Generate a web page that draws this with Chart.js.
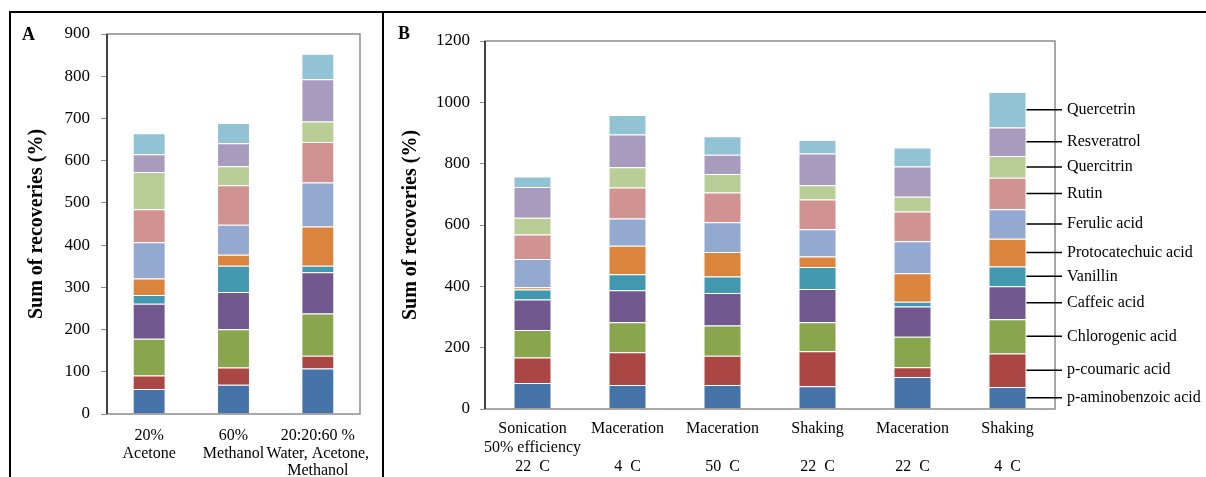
<!DOCTYPE html>
<html>
<head>
<meta charset="utf-8">
<script src="https://cdn.jsdelivr.net/npm/chart.js@4"></script>
<style>
  body { margin: 0; background: #fff; }
  #wrap { position: relative; width: 1206px; height: 477px; overflow: hidden; }
  canvas { position: absolute; top: 0; }
  #cA { left: 0; }
  #cB { left: 383px; }
  .frame { position: absolute; background: #000; }
</style>
</head>
<body>
<div id="wrap">
  <canvas id="cA" width="383" height="477"></canvas>
  <canvas id="cB" width="823" height="477"></canvas>
  <div class="frame" style="left:10px;top:11px;width:1196px;height:2px"></div>
  <div class="frame" style="left:9px;top:11px;width:2px;height:466px"></div>
  <div class="frame" style="left:382px;top:11px;width:2px;height:466px"></div>
</div>
<script>
// compounds, bottom to top of each stack
const compounds = ['p-aminobenzoic acid', 'p-coumaric acid', 'Chlorogenic acid', 'Caffeic acid',
  'Vanillin', 'Protocatechuic acid', 'Ferulic acid', 'Rutin', 'Quercitrin', 'Resveratrol', 'Quercetrin'];
const colours = ['#4572A7', '#AA4643', '#89A54E', '#71588F', '#4198AF', '#DB843D',
  '#93A9CF', '#D19392', '#B9CD96', '#A99BBD', '#92C3D5'];

// panel A - solvents
const solventLabels = [['20%', 'Acetone'], ['60%', 'Methanol'], ['20:20:60 %', 'Water, Acetone,', 'Methanol']];
// one row per compound, values per solvent
const solventValues = [
  [59, 69, 108],
  [32, 41, 30],
  [87, 91, 100],
  [83, 88, 98],
  [21, 62, 15],
  [39, 26, 93],
  [86, 71, 104],
  [78, 94, 96],
  [88, 45, 49],
  [42, 54, 100],
  [50, 48, 60]
];
const ticksA = { min: 0, max: 900, step: 100 };

// panel B - extraction methods
const methodLabels = [['Sonication', '50% efficiency', '22  C'], ['Maceration', '', '4  C'],
  ['Maceration', '', '50  C'], ['Shaking', '', '22  C'], ['Maceration', '', '22  C'], ['Shaking', '', '4  C']];
const methodValues = [
  [85, 78, 78, 74, 104, 72],
  [83, 107, 96, 114, 32, 109],
  [90, 98, 98, 95, 100, 112],
  [99, 104, 106, 108, 98, 107],
  [33, 52, 54, 72, 16, 65],
  [7, 93, 80, 34, 93, 90],
  [92, 89, 97, 89, 104, 96],
  [80, 101, 97, 97, 97, 103],
  [55, 66, 60, 47, 48, 71],
  [100, 107, 63, 103, 99, 93],
  [34, 64, 60, 44, 62, 116]
];
const ticksB = { min: 0, max: 1200, step: 200 };

const serif = '"Liberation Serif", "Times New Roman", serif';

// grey plot box, darker value axis
const plotBox = {
  id: 'plotBox',
  afterDatasetsDraw(chart) {
    const { ctx, chartArea: a } = chart;
    ctx.save();
    ctx.strokeStyle = '#8c8c8c';
    ctx.lineWidth = 1.5;
    ctx.strokeRect(a.left, a.top, a.right - a.left, a.bottom - a.top);
    ctx.strokeStyle = '#222';
    ctx.beginPath();
    ctx.moveTo(a.left, a.top);
    ctx.lineTo(a.left, a.bottom);
    ctx.stroke();
    ctx.restore();
  }
};

// panel letter
function letter(txt, x, y) {
  return {
    id: 'letter' + txt,
    afterDraw(chart) {
      const ctx = chart.ctx;
      ctx.save();
      ctx.font = 'bold 18px ' + serif;
      ctx.fillStyle = '#000';
      ctx.textBaseline = 'middle';
      ctx.fillText(txt, x, y);
      ctx.restore();
    }
  };
}

// labels with leader lines next to the last bar
const sideLegend = {
  id: 'sideLegend',
  afterDraw(chart) {
    const { ctx, chartArea: a } = chart;
    ctx.save();
    ctx.font = '16px ' + serif;
    ctx.fillStyle = '#000';
    ctx.strokeStyle = '#000';
    ctx.lineWidth = 1.5;
    ctx.textBaseline = 'middle';
    chart.data.datasets.forEach((ds, i) => {
      const meta = chart.getDatasetMeta(i);
      const bar = meta.data[meta.data.length - 1];
      const y = (bar.y + bar.base) / 2;
      ctx.beginPath();
      ctx.moveTo(bar.x + bar.width / 2, y);
      ctx.lineTo(a.right + 7, y);
      ctx.stroke();
      ctx.fillText(ds.label, a.right + 12, y);
    });
    ctx.restore();
  }
};

function makeDatasets(rows, pct) {
  return rows.map((vals, i) => ({
    label: compounds[i],
    data: vals,
    backgroundColor: colours[i],
    borderColor: 'rgba(255,255,255,0.55)',
    borderWidth: 1,
    barPercentage: pct,
    categoryPercentage: 1
  }));
}

function makeOptions(t, cfg) {
  return {
    responsive: false,
    animation: false,
    layout: { padding: cfg.padding },
    plugins: { legend: { display: false }, tooltip: { enabled: false } },
    scales: {
      x: {
        stacked: true,
        grid: { display: false },
        border: { display: false },
        ticks: {
          color: '#000', maxRotation: 0, autoSkip: false, padding: cfg.xPad,
          font: { family: serif, size: 16, lineHeight: cfg.lh }
        },
        afterFit(s) { s.height = cfg.xHeight; }
      },
      y: {
        stacked: true,
        min: t.min, max: t.max,
        grid: { drawOnChartArea: false, drawTicks: true, tickLength: cfg.tickLen, tickColor: '#8c8c8c' },
        border: { display: false },
        ticks: {
          stepSize: t.step, color: '#000', padding: cfg.yPad,
          font: { family: serif, size: 17 },
          callback: v => String(v)
        },
        title: {
          display: true, text: 'Sum of recoveries (%)', color: '#000',
          font: { family: serif, size: 20, weight: 'bold' },
          padding: { top: cfg.titlePad, bottom: 0 }
        },
        afterFit(s) { s.width = cfg.yWidth; }
      }
    }
  };
}

new Chart(document.getElementById('cA'), {
  type: 'bar',
  data: { labels: solventLabels, datasets: makeDatasets(solventValues, 0.39) },
  options: makeOptions(ticksA, {
    padding: { left: 0, top: 34, right: 23, bottom: 0 },
    xHeight: 63, xPad: 5, lh: 1.1, yWidth: 107, yPad: 11, tickLen: 6, titlePad: 25
  }),
  plugins: [plotBox, letter('A', 22, 35)]
});

new Chart(document.getElementById('cB'), {
  type: 'bar',
  data: { labels: methodLabels, datasets: makeDatasets(methodValues, 0.4) },
  options: makeOptions(ticksB, {
    padding: { left: 0, top: 41, right: 151, bottom: 0 },
    xHeight: 68, xPad: 2, lh: 1.2, yWidth: 102, yPad: 10, tickLen: 5, titlePad: 16
  }),
  plugins: [plotBox, sideLegend, letter('B', 15, 34)]
});
</script>
</body>
</html>
